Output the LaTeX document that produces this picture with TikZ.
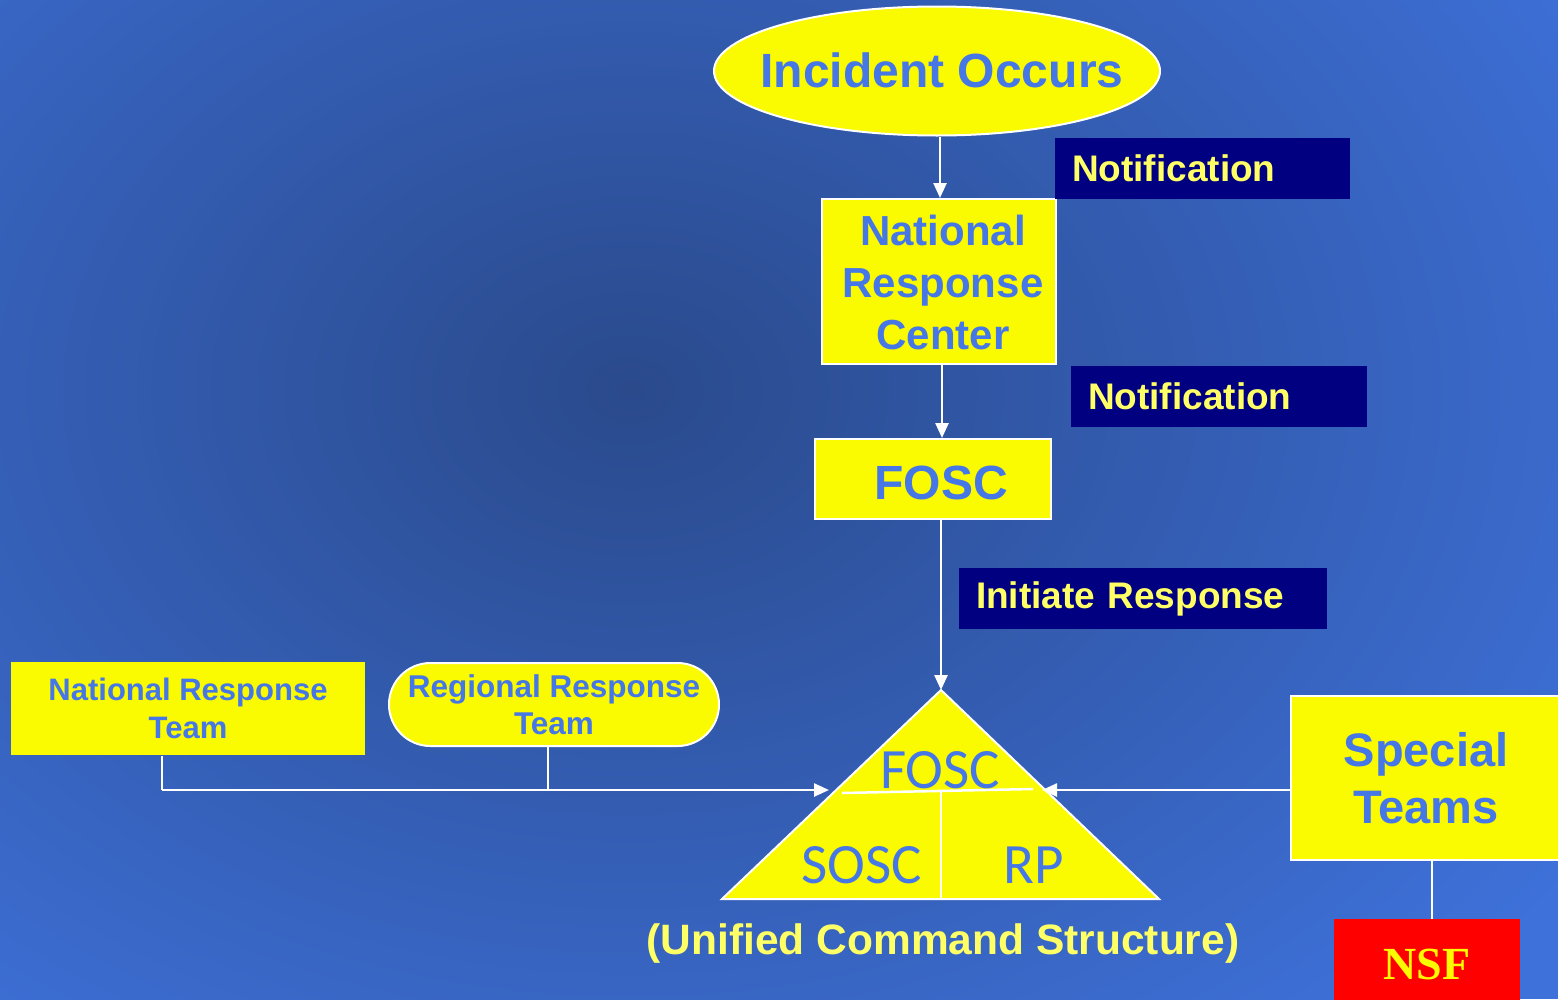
\documentclass[tikz,border=0pt]{standalone}
\usepackage{fontspec}
\setmainfont{Liberation Sans}
\newfontfamily\carl{Carlito}
\newfontfamily\tnr{Liberation Serif}
\usetikzlibrary{shapes.geometric,shapes.misc,arrows.meta}
\definecolor{bgout}{HTML}{3E71DA}
\definecolor{bgin}{HTML}{2A4A8C}
\definecolor{yel}{HTML}{FAFA00}
\definecolor{tblue}{HTML}{4677E6}
\definecolor{navy}{HTML}{000080}
\definecolor{pale}{HTML}{FFFF66}
\newcommand{\fs}[2]{\fontsize{#1}{#2}\selectfont}
\tikzset{
  ybox/.style={draw=white, line width=2pt, fill=yel, text=tblue, inner sep=0pt, align=center},
  lbl/.style={fill=navy, text=pale, font=\bfseries\fs{37}{40}, inner xsep=17pt, inner ysep=0pt, minimum height=61pt, align=left},
  conn/.style={draw=white, line width=2.5pt},
  arr/.style={conn, -{Triangle[length=15pt,width=13pt]}},
  tri/.style={text=tblue, font=\carl\fs{57}{57}},
}
\begin{document}
\begin{tikzpicture}[x=1pt,y=-1pt]
\useasboundingbox (0,0) rectangle (1558,999);
\clip (0,0) rectangle (1558,999);
\fill[bgout] (0,0) rectangle (1558,999);
\shade[inner color=bgin, outer color=bgout] (630,390) ellipse [x radius=1150, y radius=860];
% nodes
\node[ybox, ellipse, inner xsep=-30pt, minimum width=446pt, minimum height=129pt, text height=32pt, text depth=0pt, font=\bfseries\fs{48}{48}] (inc) at (937,71) {\hspace{10pt}Incident Occurs};
\node[ybox, minimum width=234pt, minimum height=165pt, text height=135pt, text depth=0pt, font=\bfseries\fs{42}{52}] (nrc) at (939,281.5) {\hspace*{8pt}National\\\hspace*{8pt}Response\\\hspace*{8pt}Center};
\node[ybox, minimum width=236pt, minimum height=80pt, text height=40pt, text depth=0pt, font=\bfseries\fs{48}{48}] (fosc) at (933,479) {\hspace{16pt}FOSC};
\node[lbl, text width=261pt] (n1) at (1202.5,168.5) {Notification};
\node[lbl, text width=262pt] (n2) at (1219,396.5) {Notification};
\node[lbl, text width=334pt] (ir) at (1143,598.5) {Initiate Response};
\node[ybox, draw=none, minimum width=354pt, minimum height=93pt, font=\bfseries\fs{31}{38}] (nrt) at (188,708.5) {National Response\\Team};
\node[ybox, rounded rectangle, minimum width=330pt, minimum height=83pt, font=\bfseries\fs{31.5}{37}] (rrt) at (554,704.5) {Regional Response\\Team};
\node[ybox, minimum width=270pt, minimum height=164pt, font=\bfseries\fs{47}{57}] (st) at (1426,778) {Special\\Teams};
\node[fill=red, text=yel, font=\tnr\bfseries\fs{46}{46}, minimum width=186pt, minimum height=90pt, inner sep=0pt] (nsf) at (1427,964) {NSF};
\node[text=pale, font=\bfseries\fs{42.5}{42.5}] (ucs) at (943,943) {(Unified Command Structure)};
% triangle
\coordinate (apex) at (941,690);
\coordinate (bl) at (722,899);
\coordinate (br) at (1159,899);
\coordinate (ml) at (842,793);
\coordinate (mr) at (1033,789);
\coordinate (mc) at (941,791);
\fill[yel] (apex) -- (bl) -- (br) -- cycle;
\draw[white, line width=2.5pt] (ml) -- (mr);
\draw[white, line width=2pt] (mc) -- (mc |- bl);
\draw[white, line width=2pt, line join=miter] (apex) -- (bl) -- (br) -- cycle;
\node[tri] (tf) at (940,770) {FOSC};
\node[tri] (ts) at (862,865) {SOSC};
\node[tri] (tr) at (1034,865) {RP};
% connectors
\draw[arr] (inc.south -| 940,0) -- (nrc.north -| 940,0);
\draw[arr] (nrc.south -| 942,0) -- (fosc.north -| 942,0);
\draw[arr] (fosc.south -| apex) -- (apex);
\coordinate (j1) at (162,790);
\coordinate (j2) at (548,790);
\coordinate (tipl) at (829,790);
\coordinate (tipr) at (1042,790);
\draw[conn] (nrt.south -| j1) -- (j1);
\draw[conn] (rrt.south -| j2) -- (j2);
\draw[arr] (j1) -- (tipl);
\draw[arr] (st.west |- tipr) -- (tipr);
\draw[conn] (st.south -| 1432,0) -- (nsf.north -| 1432,0);
\end{tikzpicture}
\end{document}
